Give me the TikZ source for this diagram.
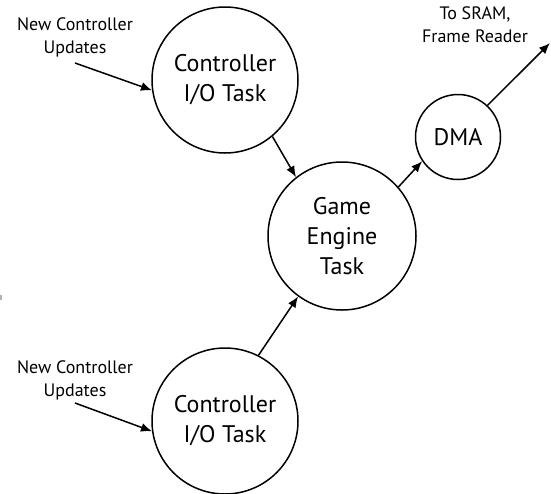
\documentclass[tikz,border=0pt]{standalone}
\usepackage{fontspec}
\setmainfont{PT Sans}
\usetikzlibrary{arrows.meta}
\begin{document}
\begin{tikzpicture}[x=1pt, y=-1pt,
  task/.style={circle, draw, line width=1.5pt, inner sep=0pt, align=center,
               font=\fontsize{24}{30}\selectfont},
  note/.style={align=center, inner sep=0pt, font=\fontsize{18}{23}\selectfont},
  flow/.style={line width=1.5pt, -{Latex[length=11pt, width=9pt]}}
]
\useasboundingbox (0,0) rectangle (551,493);

% tasks
\node[task, minimum size=146pt] (ctrlA) at (225,80)  {Controller\\I/O Task};
\node[task, minimum size=146pt] (ctrlB) at (225,421) {Controller\\I/O Task};
\node[task, minimum size=148pt] (game)  at (342,236) {Game\\Engine\\Task};
\node[task, minimum size=85pt]  (dma)   at (458,137) {DMA};

% external inputs and output
\node[note] (inA) at (75,37)  {New Controller\\Updates};
\node[note] (inB) at (75,380) {New Controller\\Updates};
\node[note] (out) at (475,25) {To SRAM,\\Frame Reader};
\coordinate (srcA) at (75,63);
\coordinate (srcB) at (75,403);
\coordinate (sink) at (550,43);

% connectors
\draw[flow] (srcA) -- (ctrlA.188);
\draw[flow] (srcB) -- (ctrlB.188);
\draw[flow] (ctrlA.-50) -- (game.128);
\draw[flow] (ctrlB.63) -- (game.234);
\draw[flow] (game.41) -- (dma.214);
\draw[flow] (dma.47) -- (sink);

% small edge mark
\fill[gray!60] (0,295) rectangle (2,300);
\end{tikzpicture}
\end{document}
